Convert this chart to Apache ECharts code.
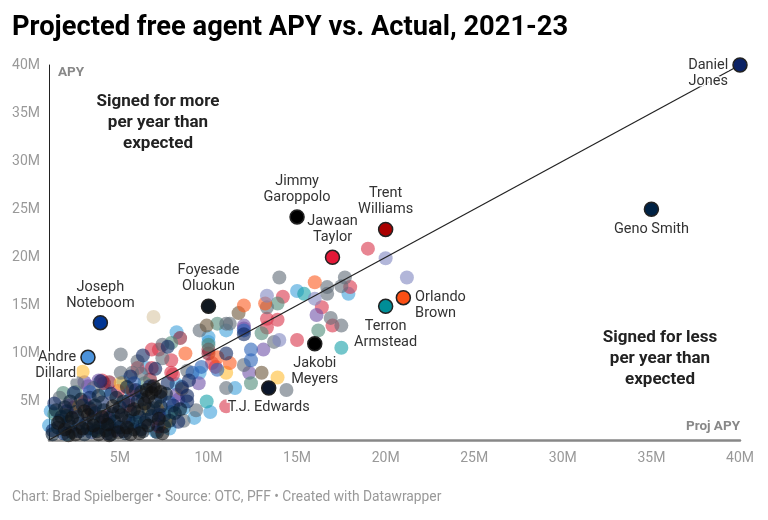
<!DOCTYPE html>
<html>
<head>
<meta charset="utf-8">
<script src="https://cdn.jsdelivr.net/npm/echarts@6/dist/echarts.min.js"></script>
<style>
  html, body { margin: 0; padding: 0; background: #fff; }
  #chart { width: 768px; height: 520px; }
</style>
</head>
<body>
<div id="chart"></div>
<script>
// tick labels (millions)
var xTicks = [5, 10, 15, 20, 25, 30, 35, 40];
var yTicks = [5, 10, 15, 20, 25, 30, 35, 40];

// background players, grouped by team colour family: [projected APY, actual APY]
var navyPts = [[1.2,2.0],[1.3,4.8],[1.6,3.0],[1.8,1.7],[2.0,4.0],[2.2,2.4],[2.4,5.9],[2.6,3.4],[2.7,1.9],[2.9,4.6],
  [3.1,2.7],[3.3,5.4],[3.4,1.8],[3.6,3.8],[3.8,2.3],[4.0,4.9],[4.1,3.0],[4.3,1.7],[4.5,5.8],[4.6,3.7],[4.8,2.4],
  [5.0,4.4],[5.2,1.9],[5.3,3.3],[5.5,5.1],[5.7,2.7],[5.9,6.2],[6.0,3.9],[6.2,2.1],[6.3,5.2],[6.5,3.1],[6.7,6.6],
  [6.9,4.3],[7.1,2.6],[7.3,5.5],[7.5,3.6],[7.7,6.9],[8.0,4.6],[8.3,2.9],[8.8,5.6],[3.9,7.1],[5.6,7.6],[7.0,8.4],
  [7.7,10.7],[6.3,9.8],[11.0,10.0],[12.0,12.0],[8.5,6.5],[8.9,7.2],[8.8,5.0],[7.2,3.6]];
var darkPts = [[1.2,1.6],[1.5,2.3],[1.7,3.4],[1.9,4.4],[2.1,2.9],[2.3,1.8],[2.5,3.9],[2.7,2.7],[2.8,5.2],[3.0,1.6],
  [3.2,2.2],[3.3,4.3],[3.5,3.2],[3.7,1.9],[3.9,2.8],[4.1,4.1],[4.2,2.0],[4.4,3.3],[4.5,1.6],[4.7,2.9],[4.9,3.9],
  [5.0,2.3],[5.2,5.0],[5.3,1.7],[5.5,3.0],[5.6,4.0],[5.8,2.1],[6.0,5.0],[6.1,3.4],[6.3,1.9],[6.4,2.8],[6.6,4.2],
  [6.8,3.5],[7.0,5.0],[7.1,1.8],[7.3,4.5],[7.5,2.4],[7.6,5.8],[7.8,3.0],[8.1,3.8],[8.4,4.2],[6.2,6.0],[5.4,6.5],
  [4.8,5.4],[3.8,5.6],[2.2,5.0],[1.4,4.1],[2.0,3.5],[3.6,4.6],[4.4,2.6]];
var blackPts = [[1.5,2.8],[1.9,2.1],[2.3,3.3],[2.5,1.6],[2.9,2.2],[3.2,3.6],[3.5,2.5],[3.8,1.6],[4.0,3.4],[4.3,2.6],
  [4.6,4.5],[4.9,1.8],[5.1,3.6],[5.4,2.3],[5.8,4.2],[6.1,1.7],[6.4,4.8],[6.6,2.5],[6.8,5.9],[7.0,6.3],[7.2,3.2],
  [7.4,1.7],[6.6,5.5],[7.3,6.0],[3.0,4.0],[2.1,1.5],[4.4,1.5],[5.6,1.6],[6.9,6.6],[6.5,6.2]];
var lightBluePts = [[1.0,2.5],[1.1,4.0],[2.0,1.6],[4.2,6.2],[5.2,7.0],[7.0,1.9],[7.8,2.2],[8.6,4.3],[8.2,6.8],[9.2,3.3],
  [5.6,6.2],[15.0,16.5],[17.9,16.2],[10.0,11.7],[8.2,12.2],[11.5,6.4],[10.1,3.9],[11.0,12.4],[10.0,11.2],[7.5,2.8],
  [9.5,8.0],[6.5,8.5]];
var redPts = [[4.0,7.2],[4.2,3.4],[6.8,10.4],[7.9,9.3],[7.2,2.4],[3.0,5.0],[5.5,4.6],[8.0,7.8],[6.0,8.5],[2.4,4.4],
  [19.0,20.9],[14.2,15.9],[18.0,16.9],[16.4,14.8],[17.0,12.9],[15.0,11.4],[13.3,13.6],[13.3,12.7],[13.9,13.5],
  [10.2,9.0],[11.0,4.5],[7.2,10.4],[7.9,8.0],[10.4,8.6],[6.8,8.5],[4.9,6.1]];
var darkRedPts = [[8.4,11.6],[10.0,10.0],[4.1,6.9],[6.7,7.3],[3.4,4.1],[10.0,10.4],[4.4,7.0]];
var purplePts = [[3.0,7.0],[3.8,7.2],[8.3,5.2],[7.2,3.9],[9.45,6.9],[2.1,4.6],[5.8,5.8],[4.7,2.0],[12.0,12.9],
  [13.1,10.4],[12.3,8.0],[16.1,14.0],[12.0,12.6],[8.2,5.7],[3.2,6.6]];
var yellowPts = [[2.9,8.1],[5.05,6.9],[2.7,4.5],[7.6,2.9],[11.0,8.0],[13.9,7.5],[6.3,4.2],[1.9,3.6],[7.1,4.3]];
var tealPts = [[9.9,5.0],[7.9,3.9],[15.4,16.2],[17.5,10.6],[3.6,2.0],[5.9,2.9]];
var greenPts = [[1.8,5.9],[2.5,6.0],[7.9,11.1],[10.5,13.1],[10.0,10.9],[16.2,12.4],[13.9,15.2],[13.0,12.1],
  [12.4,6.9],[1.3,3.7],[6.4,6.9]];
var grayPts = [[5.05,9.9],[5.05,8.0],[2.6,6.9],[7.4,9.5],[7.4,10.9],[6.2,7.9],[9.5,12.4],[11.2,13.1],[14.0,17.9],
  [17.7,17.9],[16.7,16.9],[16.7,16.2],[17.5,17.0],[16.9,13.7],[17.5,12.9],[13.3,14.8],[13.7,11.2],[12.0,8.8],
  [14.4,6.2],[11.0,6.4],[9.3,4.1],[1.6,5.4],[3.5,6.4],[8.8,8.2],[8.6,3.0],[11.0,13.1],[6.0,9.2],[5.7,8.0]];
var brownPts = [[9.9,12.9],[11.7,14.2],[13.0,8.0],[8.5,6.3]];
var beigePts = [[6.9,13.8]];
var orangePts = [[16.0,17.4],[12.0,15.0],[8.7,10.0],[11.2,9.0],[13.2,15.2],[5.7,6.2],[10.5,9.6]];
var lavenderPts = [[20.0,19.9],[21.2,17.9],[13.3,16.0],[16.0,15.7],[14.0,11.4]];
var bluePts = [[12.4,10.4],[12.4,9.3],[12.0,12.4],[9.6,8.6],[10.5,8.3],[5.8,6.9],[3.3,6.0],[7.8,4.9],[9.1,8.0]];

// labelled players
var hlNames = ['Daniel Jones', 'Geno Smith', 'Jimmy Garoppolo', 'Trent Williams', 'Jawaan Taylor', 'Orlando Brown',
  'Terron Armstead', 'Foyesade Oluokun', 'Joseph Noteboom', 'Andre Dillard', 'Jakobi Meyers', 'T.J. Edwards'];
var hlProj = [40.0, 35.0, 15.0, 20.0, 17.0, 21.0, 20.0, 10.0, 3.9, 3.2, 16.0, 13.4];
var hlApy  = [40.0, 25.0, 24.2, 22.9, 20.0, 15.8, 14.9, 14.9, 13.2, 9.6, 11.0, 6.4];

var hlStyle = {
  'Daniel Jones':     { color: '#0b2265', pos: 'left',   text: 'Daniel\nJones', offset: [-20, 8], align: 'center' },
  'Geno Smith':       { color: '#002244', pos: 'bottom', text: 'Geno Smith' },
  'Jimmy Garoppolo':  { color: '#000000', pos: 'top',    text: 'Jimmy\nGaroppolo' },
  'Trent Williams':   { color: '#aa0000', pos: 'top',    text: 'Trent\nWilliams' },
  'Jawaan Taylor':    { color: '#e31837', pos: 'top',    text: 'Jawaan\nTaylor' },
  'Orlando Brown':    { color: '#fb4f14', pos: 'right',  text: 'Orlando\nBrown', offset: [0, 8] },
  'Terron Armstead':  { color: '#008e97', pos: 'bottom', text: 'Terron\nArmstead' },
  'Foyesade Oluokun': { color: '#101820', pos: 'top',    text: 'Foyesade\nOluokun' },
  'Joseph Noteboom':  { color: '#003594', pos: 'top',    text: 'Joseph\nNoteboom' },
  'Andre Dillard':    { color: '#4b92db', pos: 'left',   text: 'Andre\nDillard', offset: [0, 8] },
  'Jakobi Meyers':    { color: '#000000', pos: 'bottom', text: 'Jakobi\nMeyers' },
  'T.J. Edwards':     { color: '#0b162a', pos: 'bottom', text: 'T.J. Edwards' }
};

var groups = [
  [lightBluePts, '#3da0db'], [redPts, '#d8344a'], [darkRedPts, '#8b1e32'], [purplePts, '#6f52a8'],
  [yellowPts, '#ffbd33'], [tealPts, '#16a0a8'], [greenPts, '#4e8a78'], [grayPts, '#5f6b76'],
  [brownPts, '#6b5539'], [beigePts, '#d9c7a3'], [orangePts, '#fb5a1e'], [lavenderPts, '#7f86c0'],
  [bluePts, '#2a62b8'], [navyPts, '#0d2660'], [darkPts, '#0a1f33'], [blackPts, '#111111']
];

var series = groups.map(function (g) {
  return {
    type: 'scatter', data: g[0], symbolSize: 14, z: 2, silent: true,
    itemStyle: { color: g[1], opacity: 0.6 }
  };
});

// the "as projected" diagonal
series.push({
  type: 'line', data: [[1, 1], [40, 40]], symbol: 'none', z: 3, silent: true,
  lineStyle: { color: '#222', width: 1.2 }
});

series.push({
  type: 'scatter', symbolSize: 14, z: 5,
  data: hlNames.map(function (n, i) {
    var s = hlStyle[n];
    var lbl = { position: s.pos, formatter: s.text, offset: s.offset || [0, 0] };
    if (s.align) lbl.align = s.align;
    return { name: n, value: [hlProj[i], hlApy[i]], itemStyle: { color: s.color }, label: lbl };
  }),
  itemStyle: { borderColor: '#222', borderWidth: 1.5, opacity: 1 },
  label: {
    show: true, color: '#333', fontSize: 14.5, lineHeight: 16, distance: 4,
    fontFamily: 'Roboto', textBorderColor: '#fff', textBorderWidth: 3
  }
});

var chart = echarts.init(document.getElementById('chart'));
chart.setOption({
  animation: false,
  textStyle: { fontFamily: 'Roboto' },
  title: {
    text: 'Projected free agent APY vs. Actual, 2021-23', left: 7, top: 10,
    textStyle: { fontSize: 27.3, fontWeight: 'bold', color: '#000', fontFamily: 'Roboto' }
  },
  grid: { left: 49, right: 28, top: 65, bottom: 80 },
  xAxis: {
    type: 'value', min: 1, max: 40,
    splitLine: { show: false }, axisTick: { show: false },
    axisLine: { show: true, lineStyle: { color: '#888', width: 2.5 } },
    axisLabel: {
      customValues: xTicks, formatter: function (v) { return v + 'M'; },
      color: '#999', fontSize: 14, margin: 11
    }
  },
  yAxis: {
    type: 'value', min: 1, max: 40,
    splitLine: { show: false }, axisTick: { show: false },
    axisLine: { show: true, lineStyle: { color: '#222', width: 1 } },
    axisLabel: {
      customValues: yTicks, formatter: function (v) { return v + 'M'; },
      color: '#999', fontSize: 14, margin: 9
    }
  },
  graphic: [
    { type: 'text', left: 58, top: 66, style: { text: 'APY', fill: '#888', font: 'bold 13.5px Roboto' } },
    { type: 'text', right: 28, top: 420, style: { text: 'Proj APY', fill: '#888', font: 'bold 13.5px Roboto', textAlign: 'right' } },
    { type: 'text', x: 158, y: 91, style: { text: 'Signed for more\nper year than\nexpected', fill: '#222',
      font: 'bold 17px Roboto', lineHeight: 21, textAlign: 'center' } },
    { type: 'text', x: 660, y: 327, style: { text: 'Signed for less\nper year than\nexpected', fill: '#222',
      font: 'bold 17px Roboto', lineHeight: 21, textAlign: 'center' } },
    { type: 'text', left: 12, top: 491, style: { text: 'Chart: Brad Spielberger \u2022 Source: OTC, PFF \u2022 Created with Datawrapper',
      fill: '#999', font: '13.8px Roboto' } }
  ],
  series: series
});
</script>
</body>
</html>
